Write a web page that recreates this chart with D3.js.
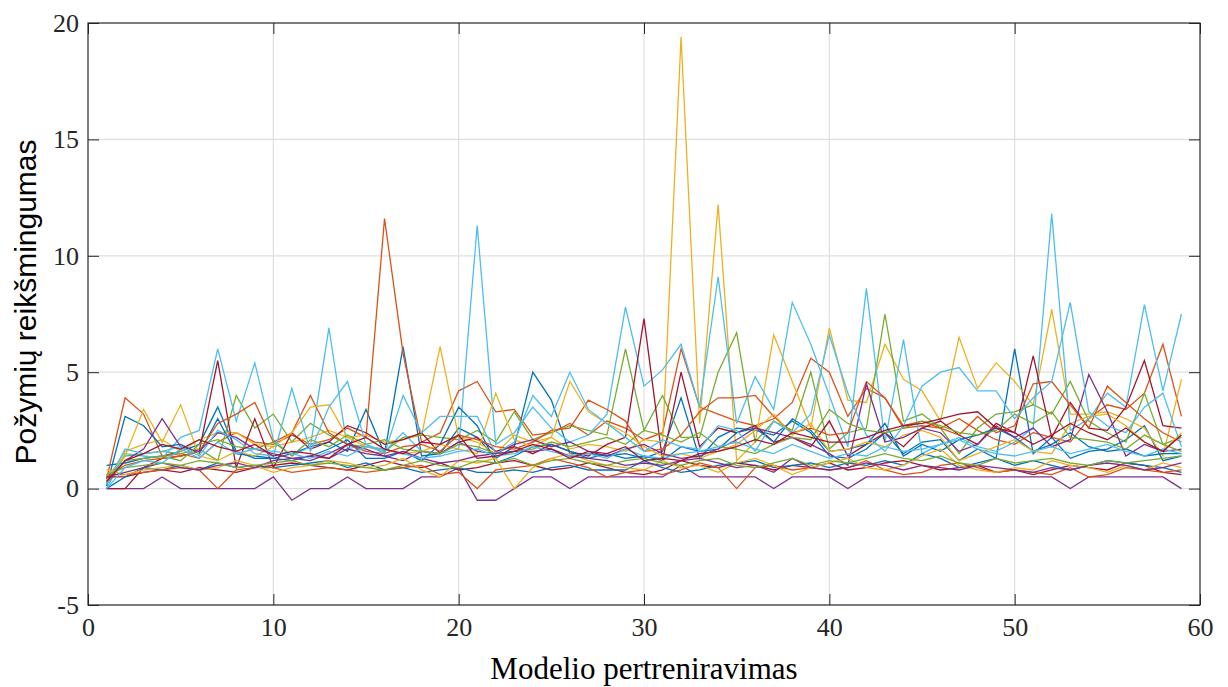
<!DOCTYPE html>
<html>
<head>
<meta charset="utf-8">
<script src="https://cdn.jsdelivr.net/npm/d3@7"></script>
<style>
  body { margin: 0; background: #ffffff; }
  svg { display: block; }
</style>
</head>
<body>
<svg id="chart" width="1228" height="687"></svg>
<script>
// Retraining rounds on the x axis
const retrainRounds = d3.range(1, 60);

// Feature importance per retraining round, one array per feature
const f01 = [1.0,1.1,1.3,1.4,1.6,1.9,3.5,1.6,1.3,1.3, 1.5,1.8,2.0,1.6,3.4,1.5,6.1,1.4,1.5,2.6, 2.2,1.3,1.8,5.0,3.8,1.5,1.5,1.4,1.5,1.3, 1.6,3.9,1.3,2.2,2.6,2.5,2.3,2.9,2.4,1.4, 1.3,1.7,2.4,1.5,2.0,2.1,1.2,1.7,1.3,6.0, 1.5,2.2,1.3,1.6,1.7,2.1,2.7,1.2,1.4];
const f02 = [0.4,3.9,3.2,1.4,1.5,1.3,2.0,2.4,2.0,1.9, 2.3,1.9,2.1,2.6,2.2,11.6,5.8,2.0,2.4,4.2, 4.6,3.3,3.4,2.3,2.4,2.8,2.3,2.9,2.6,2.1, 2.4,6.0,3.5,3.2,2.9,2.7,3.0,3.7,5.6,5.0, 3.1,4.3,3.9,2.6,2.7,2.6,3.0,2.5,2.1,1.9, 2.4,2.2,2.0,3.0,3.6,3.4,4.1,6.2,3.1];
const f03 = [0.3,1.6,1.9,2.1,1.6,2.1,2.4,2.4,1.9,1.8, 2.0,2.2,2.5,2.2,2.3,2.0,2.1,2.3,6.1,2.2, 2.0,1.5,2.3,2.0,2.2,1.7,1.9,1.8,1.6,2.1, 2.0,19.4,2.8,12.2,1.2,2.0,6.6,4.6,2.6,6.9, 3.8,3.7,6.2,4.7,4.2,2.9,6.5,4.3,5.4,4.6, 3.6,7.7,3.2,3.2,3.3,3.0,2.6,1.4,4.7];
const f04 = [0,0,0,0.5,0,0,0,0,0,0.5, -0.5,0,0,0.5,0,0,0,0.5,0.5,0.9, -0.5,-0.5,0,0.5,0.5,0,0.5,0.5,0.5,0.5, 0.5,1.0,0.5,0.5,0.5,0.5,0,0.5,0.5,0.5, 0,0.5,0.5,0.5,0.5,0.5,0.5,0.5,0.5,0.5, 0.5,0.5,0,0.5,0.5,0.5,0.5,0.5,0];
const f05 = [0.3,1.4,1.5,1.6,1.5,1.7,1.2,4.0,2.6,3.2, 2.0,2.8,2.3,1.9,1.8,1.6,2.2,2.3,2.2,2.1, 2.5,2.0,3.3,2.1,2.4,2.7,2.5,2.3,6.0,2.5, 4.0,2.2,2.2,5.0,6.7,2.0,2.9,2.5,5.0,1.7, 2.4,2.6,7.5,2.9,3.2,2.6,1.5,2.6,3.2,3.3, 3.6,3.2,4.6,2.9,2.4,2.0,4.1,1.9,2.2];
const f06 = [0.0,1.5,1.4,1.3,2.2,2.5,6.0,2.9,5.4,2.1, 1.4,1.8,6.9,1.7,1.9,1.6,2.4,1.6,1.5,1.7, 11.3,1.9,2.4,3.5,2.6,2.0,2.3,3.2,7.8,4.4, 5.1,6.2,3.5,9.1,2.8,4.8,3.4,8.0,6.2,4.0, 1.8,8.6,2.0,6.4,1.5,1.9,2.2,1.8,1.6,2.0, 2.6,11.8,2.5,3.0,4.1,3.5,7.9,4.2,7.5];
const f07 = [0.0,0.0,0.9,1.3,1.4,1.6,5.5,0.9,3.0,0.9, 2.4,1.7,2.0,2.7,2.4,1.9,2.1,2.4,1.5,2.0, 2.2,1.6,1.8,1.5,1.9,1.6,1.4,1.9,2.2,7.3, 1.2,5.0,1.8,2.6,2.4,2.7,2.0,2.2,1.8,2.9, 1.4,1.9,2.4,1.8,2.6,2.9,2.3,1.9,2.8,2.4, 5.7,2.2,3.7,2.6,2.5,3.5,5.5,2.7,2.6];
const f08 = [0.1,3.1,2.7,1.8,1.9,1.5,3.0,1.5,1.4,1.3, 1.2,1.4,1.7,2.1,1.3,1.3,1.6,1.2,1.9,3.5, 2.7,1.1,1.4,1.8,1.9,1.6,1.3,1.5,1.3,1.4, 1.2,1.8,1.6,1.7,2.4,2.6,2.0,3.0,2.5,1.6, 1.7,1.9,2.8,1.4,1.9,1.6,2.1,2.3,2.6,2.2, 1.6,1.9,2.4,1.8,1.6,1.7,1.4,1.5,1.5];
const f09 = [0.5,1.0,1.2,1.3,1.4,1.6,2.8,3.2,3.7,2.0, 2.4,4.0,2.4,1.9,1.6,1.5,1.8,1.9,1.6,2.3, 2.1,1.8,1.7,2.0,2.5,2.6,3.8,3.4,2.9,1.6, 1.7,2.3,3.3,3.9,3.9,4.0,3.1,2.4,2.6,2.3, 2.4,4.6,3.9,2.7,2.9,2.6,2.3,3.1,2.4,2.7, 4.5,4.6,3.6,2.6,4.4,3.7,3.0,2.4,2.0];
const f10 = [0.5,1.4,3.4,2.0,3.6,1.4,1.2,1.6,1.4,1.8, 2.4,3.5,3.6,2.2,1.8,1.7,1.5,1.6,1.9,1.7, 1.5,4.1,2.1,1.8,2.2,4.6,3.3,2.8,2.4,1.8, 1.4,1.5,1.3,1.6,1.9,2.5,3.2,2.3,2.8,1.6, 1.7,2.0,1.8,2.3,2.5,2.2,1.2,1.5,1.8,2.1, 1.6,1.5,2.8,3.1,3.2,2.7,2.0,1.6,2.4];
const f11 = [0.2,1.2,1.7,3.0,1.8,1.6,2.4,2.2,1.7,1.5, 1.3,1.2,1.5,1.9,1.7,1.4,1.2,1.6,1.5,2.0, 1.6,1.5,1.9,2.1,1.8,2.0,1.6,1.4,1.7,1.9, 1.5,1.3,1.4,1.7,2.1,2.6,2.4,2.2,1.9,1.5, 1.0,4.5,2.0,2.2,2.6,2.4,1.6,1.9,2.7,2.2, 2.6,1.8,2.1,4.9,3.3,1.4,1.9,1.6,1.7];
const f12 = [0.2,1.2,1.3,1.4,1.2,1.9,2.1,1.8,1.7,2.0, 1.4,2.1,1.8,2.3,1.9,2.1,1.7,1.6,1.5,1.9, 1.8,1.5,1.6,1.7,2.0,1.8,2.0,2.2,1.9,2.5, 2.3,2.0,2.4,1.8,1.7,1.5,1.9,2.2,2.1,3.4, 2.8,2.5,2.4,2.6,2.9,2.7,2.4,2.3,2.5,3.2, 2.8,3.3,2.2,2.1,2.0,1.7,2.3,1.9,1.6];
const f13 = [0.2,1.7,1.5,1.6,1.8,1.4,2.5,2.1,1.5,1.4, 4.3,1.6,3.5,4.6,1.9,1.5,4.0,2.4,3.1,3.1, 3.1,1.5,2.0,4.0,3.1,5.0,3.4,2.8,2.2,1.6, 2.1,1.8,1.7,2.7,2.5,1.6,2.9,2.4,3.2,6.6, 4.1,2.3,1.6,2.7,4.4,5.0,5.2,4.2,4.2,3.0, 3.9,4.6,8.0,3.3,2.7,2.4,3.5,4.1,1.8];
const f14 = [0.5,0.5,0.7,0.8,0.7,0.9,0.8,0.7,0.9,1.0, 1.1,1.0,0.9,0.8,1.0,1.2,1.0,0.9,1.1,0.8, 0.9,1.1,1.2,1.0,0.8,0.9,1.1,0.9,0.7,0.6, 0.8,1.2,1.0,0.9,1.1,1.0,0.8,1.0,0.9,1.1, 0.8,0.9,1.1,1.2,1.0,0.8,0.9,1.0,0.7,0.8, 0.6,0.8,1.0,0.9,0.8,1.1,1.0,0.7,0.6];
const f15 = [0.0,0.5,0.9,0.8,1.0,0.8,1.1,0.9,1.0,0.9, 1.0,1.1,1.2,0.9,1.1,0.8,0.9,0.7,0.8,0.9, 0.7,0.7,0.8,0.7,0.9,1.0,0.8,0.8,0.8,1.2, 0.9,0.7,0.8,1.0,1.1,1.2,0.9,1.0,1.1,0.9, 1.1,1.0,1.2,1.0,1.5,1.3,0.9,1.1,1.3,1.0, 1.2,1.0,0.8,1.0,1.2,1.1,1.0,0.9,0.7];
const f16 = [0.6,0.6,0.7,0.8,0.9,0.8,0.0,0.8,0.9,0.9, 0.7,0.8,0.9,0.8,0.7,0.8,0.9,1.0,0.6,0.7, 0.0,0.8,0.9,1.0,1.3,1.1,0.9,0.5,0.7,0.8, 0.6,0.8,1.1,0.9,0.0,0.9,1.0,0.8,0.9,0.8, 0.9,1.2,0.8,0.6,0.7,1.0,1.1,0.9,0.7,0.8, 0.7,0.6,0.9,0.5,0.6,0.9,0.8,0.7,0.8];
const f17 = [0.8,0.6,0.8,0.9,1.0,0.8,0.9,1.2,1.0,0.7, 0.9,1.0,1.2,1.1,0.9,1.0,1.3,0.8,0.5,1.2, 1.1,1.3,0.0,0.9,1.3,1.5,1.2,1.0,0.9,0.8, 1.2,0.9,1.0,0.7,1.1,1.3,1.0,0.6,0.9,1.1, 1.3,0.9,0.8,1.0,1.4,1.7,1.0,0.8,0.7,0.9, 0.8,1.2,1.0,0.9,0.7,1.0,0.8,1.1,0.9];
const f18 = [0.5,0.7,0.9,1.1,0.9,0.8,1.0,1.1,0.9,1.2, 1.3,1.4,1.3,1.7,1.5,1.4,1.6,1.3,1.1,1.2, 1.4,1.5,1.6,1.6,1.7,1.4,1.3,1.2,1.0,1.1, 1.0,1.2,1.3,1.1,0.9,1.0,0.7,1.3,0.9,0.8, 0.9,1.1,1.0,0.8,1.0,0.9,0.8,1.0,0.9,0.8, 0.7,0.9,0.8,1.0,1.1,1.0,0.8,0.9,1.1];
const f19 = [0.6,0.9,1.0,1.1,1.0,1.2,1.1,0.9,1.0,1.1, 1.2,1.0,1.1,1.0,0.9,0.8,1.0,1.2,1.0,0.9, 1.2,1.1,1.3,1.0,1.2,1.3,1.1,1.0,1.2,1.3, 1.1,1.0,1.2,1.3,1.0,0.9,1.1,1.3,1.0,1.2, 1.1,1.3,1.5,1.3,1.2,1.4,1.1,1.0,1.3,1.1, 1.2,1.3,1.1,1.0,1.2,1.1,1.2,1.3,1.4];
const f20 = [0.0,0.9,1.2,1.1,1.7,1.3,2.0,1.5,1.7,1.6, 1.5,1.3,1.6,1.4,1.8,1.7,1.5,1.3,1.4,1.6, 1.7,1.4,1.5,1.8,1.6,1.4,1.5,1.3,1.7,1.4, 1.3,1.5,1.6,1.8,2.0,1.7,1.5,1.9,1.6,1.3, 1.5,1.4,1.8,1.6,1.7,1.9,2.1,1.7,1.5,1.4, 1.6,1.8,1.5,1.7,1.9,1.6,1.4,1.7,1.5];
const f21 = [0.3,1.2,1.5,1.9,1.7,2.1,1.8,1.6,1.9,1.4, 1.6,1.5,1.3,1.9,2.2,1.7,1.5,2.0,1.9,2.3, 1.3,1.4,1.6,1.9,1.7,1.3,1.6,1.5,1.8,1.2, 1.3,1.2,1.5,1.6,1.8,2.1,1.9,2.4,2.2,2.0, 2.0,2.2,2.5,2.7,2.8,3.0,3.2,3.3,2.6,2.4, 1.9,2.3,2.8,2.4,2.1,2.6,2.0,1.6,2.3];

const features = [f01,f02,f03,f04,f05,f06,f07,f08,f09,f10,f11,f12,f13,f14,f15,f16,f17,f18,f19,f20,f21];

// Default line color order, cycled over the features
const lineColors = ["#0072BD","#D95319","#EDB120","#7E2F8E","#77AC30","#4DBEEE","#A2142F"];

const xTicks = [0,10,20,30,40,50,60];
const yTicks = [-5,0,5,10,15,20];
const xTitle = "Modelio pertreniravimas";
const yTitle = "Požymių reikšmingumas";

const svg = d3.select("#chart");
const box = { left: 88, top: 23, right: 1200, bottom: 605 };

const x = d3.scaleLinear().domain([0, 60]).range([box.left, box.right]);
const y = d3.scaleLinear().domain([-5, 20]).range([box.bottom, box.top]);

// Grid
const grid = svg.append("g").attr("stroke", "#dfdfdf").attr("stroke-width", 1.2);
grid.selectAll("line.gx").data(xTicks.slice(1, -1)).join("line")
  .attr("x1", d => x(d)).attr("x2", d => x(d))
  .attr("y1", box.top).attr("y2", box.bottom);
grid.selectAll("line.gy").data(yTicks.slice(1, -1)).join("line")
  .attr("x1", box.left).attr("x2", box.right)
  .attr("y1", d => y(d)).attr("y2", d => y(d));

// Feature lines
const line = d3.line().x((d, i) => x(retrainRounds[i])).y(d => y(d));
svg.append("g").attr("fill", "none").attr("stroke-width", 1.3).attr("stroke-linejoin", "miter")
  .selectAll("path").data(features).join("path")
  .attr("stroke", (d, i) => lineColors[i % lineColors.length])
  .attr("d", line);

// Axes with inward ticks on all four sides
const tickLen = 11;
const plainNumber = d => String(d);
const axisStyle = g => {
  g.select(".domain").remove();
  g.selectAll(".tick line").attr("stroke", "#262626").attr("stroke-width", 1);
  g.selectAll(".tick text").attr("fill", "#262626")
    .attr("font-family", "'Liberation Serif','Times New Roman',serif").attr("font-size", 26);
};
svg.append("g").attr("transform", `translate(0,${box.bottom})`)
  .call(d3.axisBottom(x).tickValues(xTicks).tickSize(-tickLen).tickPadding(13).tickFormat(plainNumber))
  .call(axisStyle);
svg.append("g").attr("transform", `translate(0,${box.top})`)
  .call(d3.axisTop(x).tickValues(xTicks).tickSize(-tickLen).tickFormat(""))
  .call(axisStyle);
svg.append("g").attr("transform", `translate(${box.left},0)`)
  .call(d3.axisLeft(y).tickValues(yTicks).tickSize(-tickLen).tickPadding(9).tickFormat(plainNumber))
  .call(axisStyle);
svg.append("g").attr("transform", `translate(${box.right},0)`)
  .call(d3.axisRight(y).tickValues(yTicks).tickSize(-tickLen).tickFormat(""))
  .call(axisStyle);

// Frame
svg.append("rect")
  .attr("x", box.left).attr("y", box.top)
  .attr("width", box.right - box.left).attr("height", box.bottom - box.top)
  .attr("fill", "none").attr("stroke", "#262626").attr("stroke-width", 1.2);

// Axis titles
svg.append("text")
  .attr("x", (box.left + box.right) / 2).attr("y", 679)
  .attr("text-anchor", "middle").attr("fill", "#000")
  .attr("font-family", "'Liberation Serif','Times New Roman',serif").attr("font-size", 31)
  .text(xTitle);
svg.append("text")
  .attr("transform", `translate(36,${(box.top + box.bottom) / 2 - 12}) rotate(-90)`)
  .attr("text-anchor", "middle").attr("fill", "#000")
  .attr("font-family", "'Liberation Sans',Arial,sans-serif").attr("font-size", 30)
  .text(yTitle);
</script>
</body>
</html>
